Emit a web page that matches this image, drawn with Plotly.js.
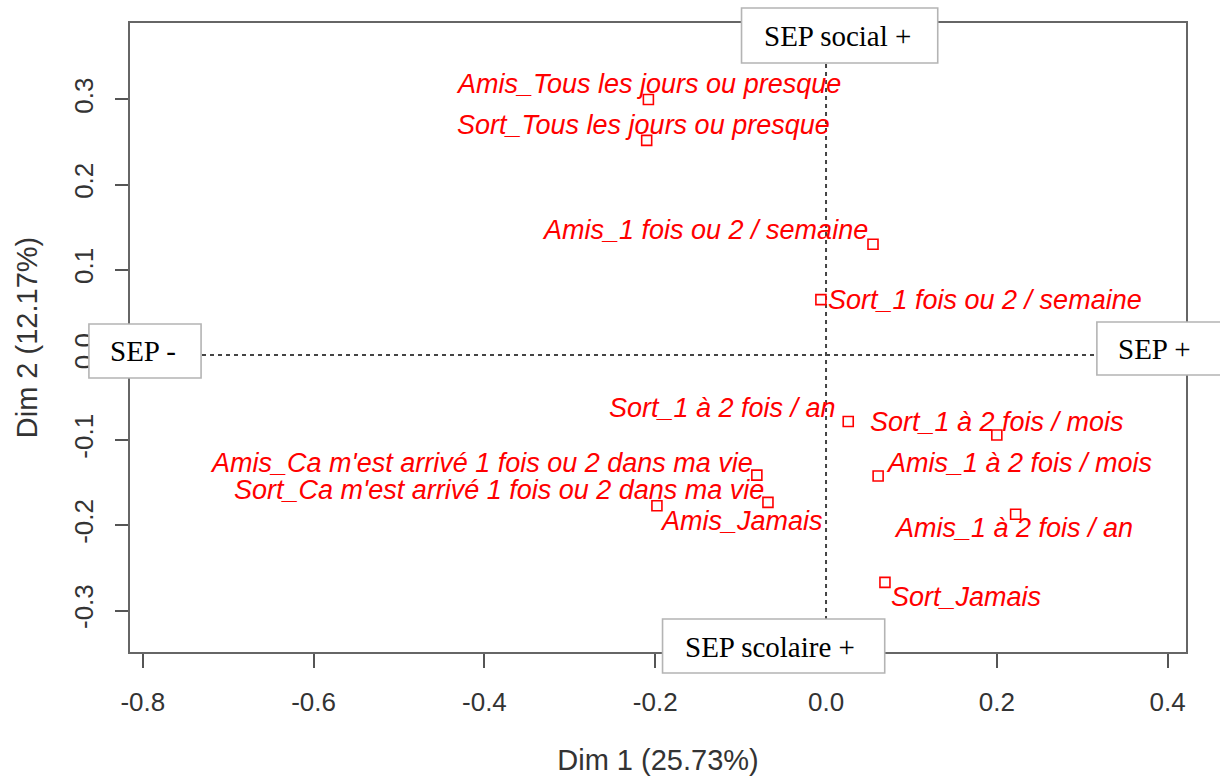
<!DOCTYPE html>
<html>
<head>
<meta charset="utf-8">
<script src="https://cdn.plot.ly/plotly-3.0.1.min.js"></script>
<style>
  html, body { margin: 0; padding: 0; background: #ffffff; }
  #chart { width: 1220px; height: 776px; }
</style>
</head>
<body>
<div id="chart"></div>
<script>
// ---- Data ----
const categories = [
  "Amis_Tous les jours ou presque",
  "Sort_Tous les jours ou presque",
  "Amis_1 fois ou 2 / semaine",
  "Sort_1 fois ou 2 / semaine",
  "Sort_1 à 2 fois / an",
  "Sort_1 à 2 fois / mois",
  "Amis_1 à 2 fois / mois",
  "Amis_Ca m'est arrivé 1 fois ou 2 dans ma vie",
  "Sort_Ca m'est arrivé 1 fois ou 2 dans ma vie",
  "Amis_Jamais",
  "Amis_1 à 2 fois / an",
  "Sort_Jamais"
];
const dim1 = [-0.208, -0.210, 0.055, -0.006, 0.026, 0.200, 0.061, -0.081, -0.068, -0.198, 0.222, 0.069];
const dim2 = [0.300, 0.252, 0.130, 0.065, -0.078, -0.094, -0.142, -0.141, -0.173, -0.177, -0.187, -0.267];

const xTickVals = [-0.8, -0.6, -0.4, -0.2, 0.0, 0.2, 0.4];
const xTickText = ["-0.8", "-0.6", "-0.4", "-0.2", "0.0", "0.2", "0.4"];
const yTickVals = [-0.3, -0.2, -0.1, 0.0, 0.1, 0.2, 0.3];
const yTickText = ["-0.3", "-0.2", "-0.1", "0.0", "0.1", "0.2", "0.3"];

const xTitle = "Dim 1 (25.73%)";
const yTitle = "Dim 2 (12.17%)";

const boxLabels = ["SEP social +", "SEP -", "SEP +", "SEP scolaire +"];

// ---- Label placement (style: anchor + pixel shift per label) ----
const labelPlacement = [
  ["center", 0, 15], ["center", -3, 15], ["right", -3, 14], ["left", 5, 0],
  ["right", -10, 13], ["center", 0, 13], ["left", 6, 13], ["right", -2, 12],
  ["right", -2, 12], ["left", 1, -15], ["center", -2, -14], ["left", 4, -15]
];
// box geometry in paper coords: [x0, x1, y0, y1, textX, textY]
const boxGeom = [
  [0.5791, 0.7649, 0.9364, 1.0238, 0.6701, 0.9793],
  [-0.0389, 0.0673, 0.4356, 0.5215, 0.0123, 0.4785],
  [0.9156, 1.0500, 0.4404, 0.5246, 0.9701, 0.4817],
  [0.5043, 0.7147, -0.0334, 0.0525, 0.6057, 0.0079]
];

const red = "#ff0000";
const pointFont = { family: "Liberation Sans, Arial, sans-serif", size: 27, color: red, style: "italic" };

const trace = {
  type: "scatter",
  mode: "markers",
  x: dim1,
  y: dim2,
  text: categories,
  hoverinfo: "text",
  marker: { symbol: "square-open", size: 10, color: red, line: { color: red, width: 1.6 } },
  showlegend: false,
  cliponaxis: false
};

const annotations = categories.map((c, i) => ({
  x: dim1[i], y: dim2[i], xref: "x", yref: "y",
  text: c, showarrow: false,
  xanchor: labelPlacement[i][0], yanchor: "middle",
  xshift: labelPlacement[i][1], yshift: labelPlacement[i][2],
  font: pointFont
}));

const shapes = [
  { type: "line", xref: "x", yref: "paper", x0: 0, x1: 0, y0: 0, y1: 1,
    line: { color: "#444", width: 2, dash: "4px,4px" }, layer: "below" },
  { type: "line", xref: "paper", yref: "y", x0: 0, x1: 1, y0: 0, y1: 0,
    line: { color: "#444", width: 2, dash: "4px,4px" }, layer: "below" }
];

boxLabels.forEach((t, i) => {
  const g = boxGeom[i];
  shapes.push({ type: "rect", xref: "paper", yref: "paper", x0: g[0], x1: g[1], y0: g[2], y1: g[3],
    fillcolor: "#ffffff", line: { color: "#b4b4b4", width: 1.6 }, layer: "above" });
  annotations.push({ x: g[4], y: g[5], xref: "paper", yref: "paper", text: t, showarrow: false,
    xanchor: "center", yanchor: "middle",
    font: { family: "Liberation Serif, Times New Roman, serif", size: 29, color: "#000" } });
});

const layout = {
  width: 1220, height: 776,
  margin: { l: 130, r: 34, t: 23, b: 124 },
  paper_bgcolor: "#ffffff", plot_bgcolor: "#ffffff",
  showlegend: false,
  xaxis: {
    range: [-0.815, 0.4215], autorange: false,
    tickmode: "array", tickvals: xTickVals, ticktext: xTickText,
    ticks: "outside", ticklen: 14, tickwidth: 2, tickcolor: "#555",
    showline: true, mirror: true, linecolor: "#666", linewidth: 2,
    showgrid: false, zeroline: false,
    ticklabelstandoff: 12,
    tickfont: { family: "Liberation Sans, Arial, sans-serif", size: 26, color: "#333" },
    title: { text: xTitle, standoff: 34, font: { family: "Liberation Sans, Arial, sans-serif", size: 29, color: "#333" } }
  },
  yaxis: {
    range: [-0.3487, 0.3898], autorange: false,
    tickmode: "array", tickvals: yTickVals, ticktext: yTickText,
    tickangle: -90,
    ticks: "outside", ticklen: 13, tickwidth: 2, tickcolor: "#555",
    showline: true, mirror: true, linecolor: "#666", linewidth: 2,
    showgrid: false, zeroline: false,
    ticklabelstandoff: 12,
    tickfont: { family: "Liberation Sans, Arial, sans-serif", size: 26, color: "#333" },
    title: { text: yTitle, standoff: 22, font: { family: "Liberation Sans, Arial, sans-serif", size: 29, color: "#333" } }
  },
  shapes: shapes,
  annotations: annotations
};

Plotly.newPlot("chart", [trace], layout, { displayModeBar: false, staticPlot: true });
</script>
</body>
</html>
